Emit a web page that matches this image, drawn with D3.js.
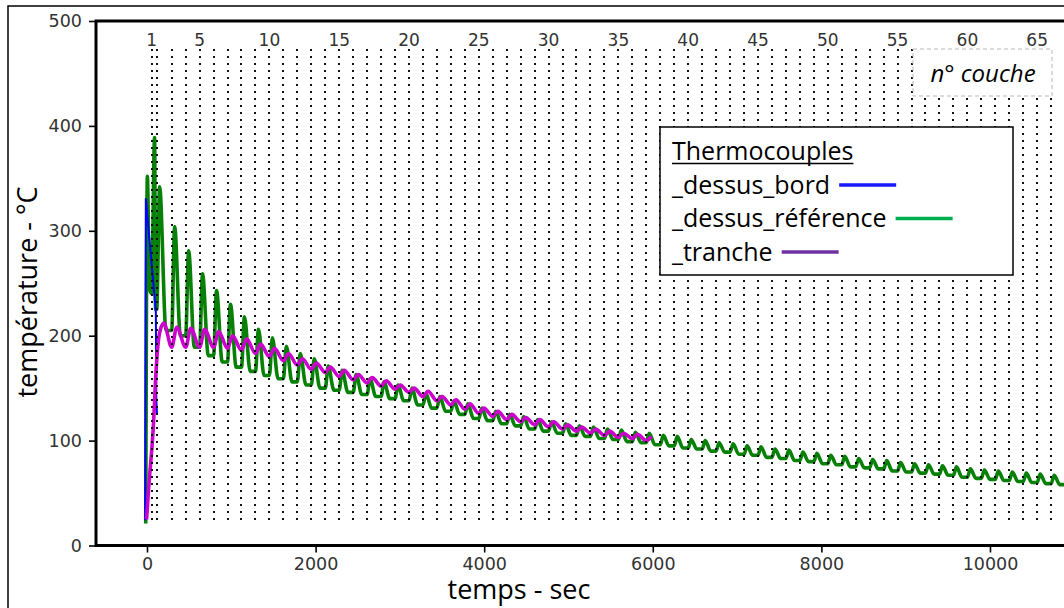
<!DOCTYPE html>
<meta charset="utf-8">
<script src="https://d3js.org/d3.v7.min.js"></script>
<style>
    body { margin: 0; background: #fff; }
    .axis .tick text { font-family: "DejaVu Sans", sans-serif; font-size: 17.5px; fill: #333; }
    .axis .tick line { stroke: #000; stroke-width: 1.6; }
    .layer_label { font-family: "DejaVu Sans", sans-serif; font-size: 17px; fill: #333; }
    .title_text { font-family: "Open Sans", sans-serif; font-size: 27px; fill: #000; }
    .legend_text { font-family: "Open Sans", sans-serif; font-size: 25px; fill: #000; }
    .couche_text { font-family: "Open Sans", sans-serif; font-size: 24px; font-style: italic; fill: #000; }
</style>
<div id="my_dataviz"></div>
<script>
// ---- data ----
const xTicks = [0, 2000, 4000, 6000, 8000, 10000];
const yTicks = [0, 100, 200, 300, 400, 500];

// start time (s) of each deposited layer (dotted columns)
const layerTimes = [55, 115, 293, 459, 624, 790, 955, 1121, 1287, 1452,
    1618, 1783, 1949, 2115, 2280, 2446, 2611, 2777, 2943, 3108,
    3274, 3439, 3605, 3771, 3936, 4102, 4267, 4433, 4599, 4764,
    4930, 5095, 5261, 5427, 5592, 5758, 5923, 6089, 6255, 6420,
    6586, 6751, 6917, 7083, 7248, 7414, 7579, 7745, 7911, 8076,
    8242, 8407, 8573, 8739, 8904, 9070, 9235, 9401, 9567, 9732,
    9898, 10063, 10229, 10395, 10560, 10726, 10891];
const layerLabels = [1, 5, 10, 15, 20, 25, 30, 35, 40, 45, 50, 55, 60, 65];
const columnRange = [23, 473];

// _dessus_référence : value just before each layer, and peak after it
const greenStart = [[-15, 21], [4, 352], [30, 245]];
const greenBase = [240, 225, 205, 200, 189, 181, 175, 170, 166, 162,
    159, 156, 153, 150, 148, 146, 144, 142, 140, 138,
    134, 131, 128, 125, 121, 119, 116, 114, 111, 109,
    107, 105, 104, 102, 101, 99, 98, 96, 95, 93,
    92, 90, 89, 87, 86, 84, 83, 81, 80, 78,
    77, 75, 74, 73, 71, 70, 69, 68, 67, 65,
    64, 63, 62, 61, 60, 59, 58];
const greenPeak = [389, 342, 304, 281, 259, 243, 230, 218, 206, 198,
    190, 183, 178, 171, 167, 163, 159, 156, 153, 150,
    145, 142, 138, 135, 131, 128, 125, 123, 120, 118,
    116, 114, 113, 111, 110, 108, 107, 105, 104, 101,
    100, 98, 97, 95, 94, 92, 91, 89, 88, 86,
    85, 83, 82, 81, 79, 78, 77, 76, 75, 73,
    72, 71, 70, 69, 68, 67, 66];

// _tranche : ramp-up, then low / high of each cycle from layer 3 to 37
const magStart = [[-5, 25], [20, 55], [75, 113], [110, 170], [150, 203], [200, 212]];
const magLow = [189, 189, 189, 189, 188, 186, 183, 180, 176, 172,
    168, 165, 161, 158, 155, 152, 149, 146, 142, 138,
    134, 130, 126, 123, 120, 118, 115, 113, 111, 109,
    107, 105, 103, 102, 100];
const magHigh = [208, 207, 206, 204, 200, 197, 192, 188, 183, 178,
    174, 170, 167, 163, 160, 157, 153, 150, 147, 142,
    139, 135, 131, 128, 125, 122, 120, 118, 115, 113,
    111, 109, 107, 106, 104];

// _dessus_bord : short record at the start
const blueTimes = [-22, -14, 95, 105, 110, 118];
const blueValues = [24, 331, 232, 222, 140, 126];

const legendNames = ["_dessus_bord", "_dessus_référence", "_tranche"];
const legendColors = ["#1a1aff", "#00b050", "#7030a0"];

// ---- layout ----
const width = 1064, height = 608;
const greenLag = 35, magLag = 60;

const x = d3.scaleLinear().domain([-605, 12705]).range([96, 1218]);
const y = d3.scaleLinear().domain([0, 500]).range([545.5, 21]);

const svg = d3.select("#my_dataviz").append("svg")
    .attr("width", width)
    .attr("height", height);

const line = d3.line().x(d => x(d[0])).y(d => y(d[1]));

function buildGreen() {
    const pts = greenStart.slice();
    layerTimes.forEach((t, i) => {
        pts.push([t, greenBase[i]]);
        pts.push([t + greenLag, greenPeak[i]]);
        if (i < layerTimes.length - 1) {
            const gap = layerTimes[i + 1] - t;
            pts.push([t + Math.max(greenLag + 12, 0.62 * gap), greenBase[i + 1]]);
        }
    });
    return pts;
}

function buildMagenta() {
    const pts = magStart.slice();
    magLow.forEach((v, i) => {
        const t = layerTimes[i + 2];
        pts.push([t, v]);
        pts.push([t + magLag, magHigh[i]]);
    });
    return pts;
}

function setFrame() {
    svg.append("rect").attr("x", 8).attr("y", 6).attr("width", 1200).attr("height", 700)
        .attr("fill", "none").attr("stroke", "#000").attr("stroke-width", 1.5);

    svg.append("clipPath").attr("id", "plot_clip")
        .append("rect").attr("x", 96).attr("y", 21).attr("width", 1122).attr("height", 524.5);
}

function setCurves() {
    const g = svg.append("g").attr("clip-path", "url(#plot_clip)");

    g.append("path").datum(buildGreen())
        .attr("fill", "none").attr("stroke", "#078007").attr("stroke-width", 3.6)
        .attr("d", line.curve(d3.curveMonotoneX));

    g.append("path").datum(blueTimes.map((t, i) => [t, blueValues[i]]))
        .attr("fill", "none").attr("stroke", "#0000ff").attr("stroke-width", 2)
        .attr("d", line.curve(d3.curveLinear));

    g.append("path").datum(buildMagenta())
        .attr("fill", "none").attr("stroke", "#cc00cc").attr("stroke-width", 3.6)
        .attr("d", line.curve(d3.curveMonotoneX));
}

function setColumns() {
    svg.append("g").attr("clip-path", "url(#plot_clip)")
        .selectAll("line").data(layerTimes).join("line")
        .attr("x1", d => Math.round(x(d))).attr("x2", d => Math.round(x(d)))
        .attr("y1", Math.round(y(columnRange[1]))).attr("y2", y(columnRange[0]))
        .attr("stroke", "#111").attr("stroke-width", 2).attr("stroke-dasharray", "2,5");

    svg.append("g").selectAll("text").data(layerLabels).join("text")
        .attr("class", "layer_label")
        .attr("x", d => x(layerTimes[d - 1]))
        .attr("y", 46)
        .attr("text-anchor", "middle")
        .text(d => d);
}

function setAxes() {
    svg.append("g").attr("class", "axis").attr("transform", "translate(96,0)")
        .call(d3.axisLeft(y).tickValues(yTicks).tickSize(7).tickPadding(7))
        .call(g => g.select(".domain").remove());

    svg.append("g").attr("class", "axis").attr("transform", "translate(0,545.5)")
        .call(d3.axisBottom(x).tickValues(xTicks).tickSize(7).tickPadding(5).tickFormat(d3.format("d")))
        .call(g => g.select(".domain").remove());

    svg.append("rect").attr("x", 96).attr("y", 21).attr("width", 1122).attr("height", 524.5)
        .attr("fill", "none").attr("stroke", "#000").attr("stroke-width", 3);
}

function setText() {
    svg.append("text").attr("class", "title_text")
        .attr("x", 519).attr("y", 599).attr("text-anchor", "middle")
        .text("temps - sec");

    svg.append("text").attr("class", "title_text")
        .attr("transform", "translate(37,292) rotate(-90)").attr("text-anchor", "middle")
        .text("température - °C");
}

function setLegend() {
    const lg = svg.append("g");
    lg.append("rect").attr("x", 660).attr("y", 127).attr("width", 353).attr("height", 148)
        .attr("fill", "#fff").attr("stroke", "#000").attr("stroke-width", 1.5);

    const head = lg.append("text").attr("class", "legend_text")
        .attr("x", 672).attr("y", 160).text("Thermocouples");
    const hw = head.node().getComputedTextLength();
    lg.append("line").attr("x1", 672).attr("x2", 672 + hw).attr("y1", 163.5).attr("y2", 163.5)
        .attr("stroke", "#000").attr("stroke-width", 1.5);

    legendNames.forEach((name, i) => {
        const by = 193.5 + i * 33.5;
        const t = lg.append("text").attr("class", "legend_text")
            .attr("x", 672).attr("y", by).text(name);
        const x0 = 672 + t.node().getComputedTextLength() + 9;
        lg.append("line").attr("x1", x0).attr("x2", x0 + 57).attr("y1", by - 8.5).attr("y2", by - 8.5)
            .attr("stroke", legendColors[i]).attr("stroke-width", 3.5);
    });

    svg.append("rect").attr("x", 913).attr("y", 49).attr("width", 139).attr("height", 47)
        .attr("fill", "#fff").attr("stroke", "#b8b8b8").attr("stroke-width", 1)
        .attr("stroke-dasharray", "4,3");
    svg.append("text").attr("class", "couche_text")
        .attr("x", 983).attr("y", 82).attr("text-anchor", "middle")
        .text("n° couche");
}

function main() {
    setFrame();
    setCurves();
    setColumns();
    setAxes();
    setText();
    setLegend();
}

main();
</script>
